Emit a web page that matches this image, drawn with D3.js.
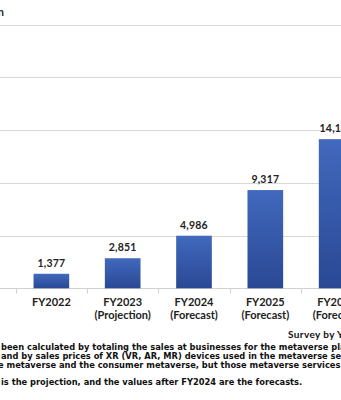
<!DOCTYPE html>
<html><head><meta charset="utf-8">
<script src="https://cdn.jsdelivr.net/npm/d3@7"></script>
<style>
html,body{margin:0;padding:0;background:#fff;overflow:hidden;}
svg{display:block;font-family:Lato, "Open Sans", sans-serif;}
</style></head>
<body>
<script>
const categories = ["FY2022", "FY2023", "FY2024", "FY2025", "FY2026"];
const subLabels = ["", "(Projection)", "(Forecast)", "(Forecast)", "(Forecast)"];
const values = [1377, 2851, 4986, 9317, 14144];
const yTicks = [0, 5000, 10000, 15000, 20000, 25000];
const unitLabel = "Unit: Million Yen";
const sourceLabel = "Survey by Yano Research Institute";
const notes = [
  "been calculated by totaling the sales at businesses for the metaverse platforms and platform builders",
  "and by sales prices of XR (VR, AR, MR) devices used in the metaverse services",
  "e metaverse and the consumer metaverse, but those metaverse services are included",
  "is the projection, and the values after FY2024 are the forecasts."
];

const W = 341, H = 400;
const svg = d3.select("body").append("svg").attr("width", W).attr("height", H);

const defs = svg.append("defs");
const g = defs.append("linearGradient").attr("id","barGrad").attr("x1",0).attr("y1",0).attr("x2",0).attr("y2",1);
g.append("stop").attr("offset","0%").attr("stop-color","#4169bd");
g.append("stop").attr("offset","100%").attr("stop-color","#2a4894");

const x = d3.scaleBand().domain(categories).range([15.7, 372.3]).paddingInner(0.5).paddingOuter(0.25);
const y = d3.scaleLinear().domain([0, 25000]).range([288.3, 24.7]);

// gridlines
svg.append("g").selectAll("line").data(yTicks.slice(1)).join("line")
  .attr("x1", 0).attr("x2", W)
  .attr("y1", d => Math.round(y(d)) + 0.5).attr("y2", d => Math.round(y(d)) + 0.5)
  .attr("stroke", "#d9d9d9").attr("stroke-width", 1);

// x axis
const xAxis = d3.axisBottom(x).tickSize(0).tickFormat("");
const ax = svg.append("g").attr("transform", `translate(0,${Math.round(y(0)) + 0.5})`).call(xAxis);
ax.select(".domain").remove();
ax.append("line").attr("x1", 0).attr("x2", W).attr("stroke", "#d0d0d0");
const bounds = [x.range()[0]].concat(categories.map(c => x(c) + x.bandwidth() + x.step() * x.paddingInner() / 2));
ax.selectAll(".bt").data(bounds).join("line").attr("class","bt")
  .attr("x1", d => Math.round(d) + 0.5).attr("x2", d => Math.round(d) + 0.5)
  .attr("y1", 0).attr("y2", 5).attr("stroke", "#d0d0d0");

// bars
svg.append("g").selectAll("rect").data(values).join("rect")
  .attr("x", (d, i) => x(categories[i]))
  .attr("width", x.bandwidth())
  .attr("y", d => y(d))
  .attr("height", d => y(0) - y(d))
  .attr("fill", "url(#barGrad)");

// value labels
svg.append("g").selectAll("text").data(values).join("text")
  .attr("x", (d, i) => x(categories[i]) + x.bandwidth() / 2)
  .attr("y", d => y(d) - 7)
  .attr("text-anchor", "middle")
  .attr("font-size", 10.5).attr("font-weight", 700).attr("fill", "#222")
  .attr("letter-spacing", 0.2)
  .text(d => d3.format(",")(d));

// category labels
const cl = svg.append("g").selectAll("text").data(categories).join("text")
  .attr("x", d => x(d) + x.bandwidth() / 2)
  .attr("y", 306)
  .attr("text-anchor", "middle")
  .attr("font-size", 11).attr("font-weight", 700).attr("fill", "#222");
cl.append("tspan").text(d => d);
cl.append("tspan").attr("x", d => x(d) + x.bandwidth() / 2).attr("dy", 12.5)
  .text((d, i) => subLabels[i]);

// unit label
svg.append("text").attr("x", 4).attr("y", 16).attr("text-anchor", "end")
  .attr("font-size", 11).attr("font-weight", 700).attr("fill", "#222").text(unitLabel);

// source
svg.append("text").attr("x", 288).attr("y", 337.5)
  .attr("font-size", 10).attr("font-weight", 700).attr("fill", "#111")
  .attr("letter-spacing", 0.4).text(sourceLabel);

// notes
const noteY = [350, 359, 368, 385];
const noteX = [1, 1, -2, 1];
svg.append("g").selectAll("text").data(notes).join("text")
  .attr("x", (d, i) => noteX[i]).attr("y", (d, i) => noteY[i])
  .attr("font-family", "'DejaVu Sans', sans-serif")
  .attr("font-size", 8.3).attr("font-weight", 700).attr("fill", "#111")
  .text(d => d);
</script>
</body></html>
